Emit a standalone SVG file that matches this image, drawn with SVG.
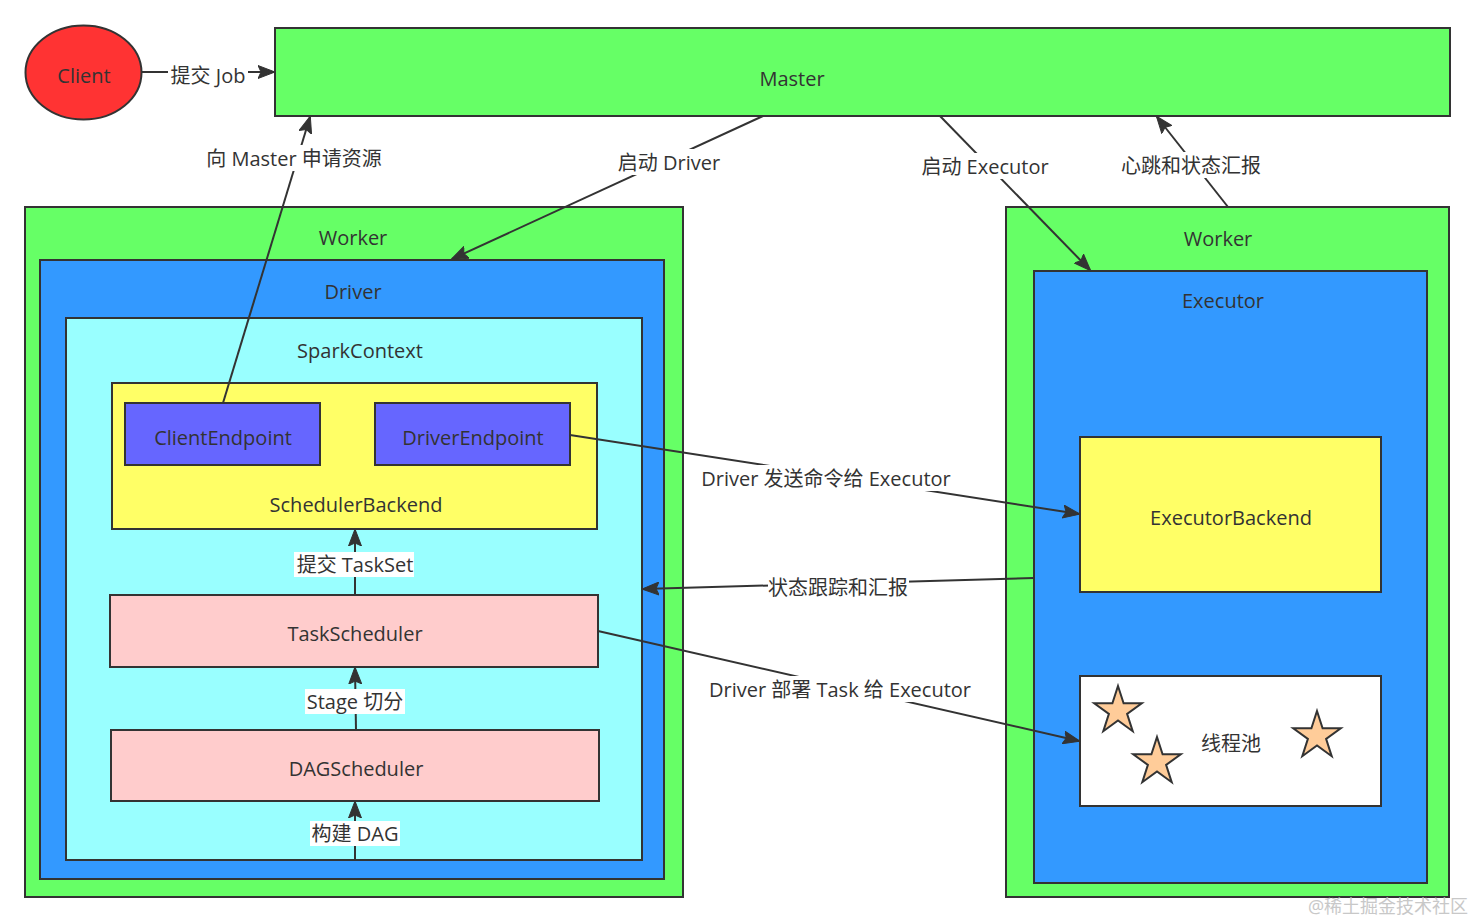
<svg xmlns="http://www.w3.org/2000/svg" width="1474" height="922" viewBox="0 0 1474 922">
<style>
text{font-family:"Open Sans","Noto Sans CJK SC",sans-serif;font-size:20px;fill:#333;text-anchor:middle;dominant-baseline:central}
.s{stroke:#333;stroke-width:2}
.e{fill:none;stroke:#333;stroke-width:2}
.g{fill:#66FF66}.b{fill:#3399FF}.c{fill:#99FFFF}.y{fill:#FFFF66}.p{fill:#6666FF}.k{fill:#FFCCCC}.w{fill:#fff}
.lb{fill:#fff}
.star{fill:#FFCC99;stroke:#333;stroke-width:2;stroke-linejoin:miter}
</style>
<defs>
<marker id="ar" markerWidth="18" markerHeight="14" refX="16" refY="7" orient="auto" markerUnits="userSpaceOnUse">
<path d="M0,0.5 L17,7 L0,13.5 L3,7 Z" fill="#333" stroke="#333" stroke-width="1"/>
</marker>
<path id="star" d="M0,-25 L5.6,-7.7 L23.8,-7.7 L9.1,2.9 L14.7,20.2 L0,9.5 L-14.7,20.2 L-9.1,2.9 L-23.8,-7.7 L-5.6,-7.7 Z"/>
</defs>
<rect width="1474" height="922" fill="#fff"/>

<g id="client"><ellipse cx="83.5" cy="72.5" rx="58" ry="47" fill="#FF3333" class="s"/><text x="84" y="75">Client</text></g>
<g id="master"><rect x="275" y="28" width="1175" height="88" class="g s"/><text x="792" y="78">Master</text></g>

<g id="worker-left"><rect x="25" y="207" width="658" height="690" class="g s"/><text x="353" y="237">Worker</text></g>
<g id="driver"><rect x="40" y="260" width="624" height="619" class="b s"/><text x="353" y="291">Driver</text></g>
<g id="sparkcontext"><rect x="66" y="318" width="576" height="542" class="c s"/><text x="360" y="350">SparkContext</text></g>
<g id="schedulerbackend"><rect x="112" y="383" width="485" height="146" class="y s"/><text x="356" y="504">SchedulerBackend</text></g>
<g id="clientendpoint"><rect x="125" y="403" width="195" height="62" class="p s"/><text x="223" y="437">ClientEndpoint</text></g>
<g id="driverendpoint"><rect x="375" y="403" width="195" height="62" class="p s"/><text x="473" y="437">DriverEndpoint</text></g>
<g id="taskscheduler"><rect x="110" y="595" width="488" height="72" class="k s"/><text x="355" y="633">TaskScheduler</text></g>
<g id="dagscheduler"><rect x="111" y="730" width="488" height="71" class="k s"/><text x="356" y="768">DAGScheduler</text></g>

<g id="worker-right"><rect x="1006" y="207" width="443" height="690" class="g s"/><text x="1218" y="238">Worker</text></g>
<g id="executor"><rect x="1034" y="271" width="393" height="612" class="b s"/><text x="1223" y="300">Executor</text></g>
<g id="executorbackend"><rect x="1080" y="437" width="301" height="155" class="y s"/><text x="1231" y="517">ExecutorBackend</text></g>
<g id="threadpool"><rect x="1080" y="676" width="301" height="130" class="w s"/><text x="1231" y="743">线程池</text>
<use href="#star" x="1118" y="711" class="star"/>
<use href="#star" x="1157" y="762" class="star"/>
<use href="#star" x="1317" y="736" class="star"/>
</g>

<g id="connectors">
<line x1="142" y1="72" x2="274" y2="72" class="e" marker-end="url(#ar)"/>
<line x1="223" y1="403" x2="310" y2="117" class="e" marker-end="url(#ar)"/>
<line x1="763" y1="116" x2="452" y2="259" class="e" marker-end="url(#ar)"/>
<line x1="940" y1="116" x2="1090" y2="270" class="e" marker-end="url(#ar)"/>
<line x1="1228" y1="207" x2="1157" y2="117" class="e" marker-end="url(#ar)"/>
<line x1="570" y1="435" x2="1079" y2="514" class="e" marker-end="url(#ar)"/>
<line x1="1034" y1="578" x2="643" y2="589" class="e" marker-end="url(#ar)"/>
<line x1="598" y1="631" x2="1079" y2="741" class="e" marker-end="url(#ar)"/>
<line x1="355" y1="595" x2="355" y2="530" class="e" marker-end="url(#ar)"/>
<line x1="356" y1="730" x2="355" y2="668" class="e" marker-end="url(#ar)"/>
<line x1="355" y1="860" x2="355" y2="802" class="e" marker-end="url(#ar)"/>

<rect x="168" y="62" width="80" height="26" class="lb"/><text x="208" y="75">提交 Job</text>
<rect x="204" y="145" width="180" height="26" class="lb"/><text x="294" y="158">向 Master 申请资源</text>
<rect x="616" y="149" width="106" height="26" class="lb"/><text x="669" y="162">启动 Driver</text>
<rect x="919" y="153" width="132" height="26" class="lb"/><text x="985" y="166">启动 Executor</text>
<rect x="1120" y="152" width="142" height="26" class="lb"/><text x="1191" y="165">心跳和状态汇报</text>
<rect x="698" y="465" width="256" height="26" class="lb"/><text x="826" y="478">Driver 发送命令给 Executor</text>
<rect x="768" y="574" width="141" height="26" class="lb"/><text x="838" y="587">状态跟踪和汇报</text>
<rect x="705" y="676" width="270" height="26" class="lb"/><text x="840" y="689">Driver 部署 Task 给 Executor</text>
<rect x="294" y="552" width="120" height="25" class="lb"/><text x="355" y="564">提交 TaskSet</text>
<rect x="305" y="689" width="100" height="25" class="lb"/><text x="355" y="701">Stage 切分</text>
<rect x="310" y="821" width="90" height="25" class="lb"/><text x="355" y="833">构建 DAG</text>
</g>
<text x="1388" y="906" style="font-size:18px;fill:#c8c8c8">@稀土掘金技术社区</text>
</svg>
